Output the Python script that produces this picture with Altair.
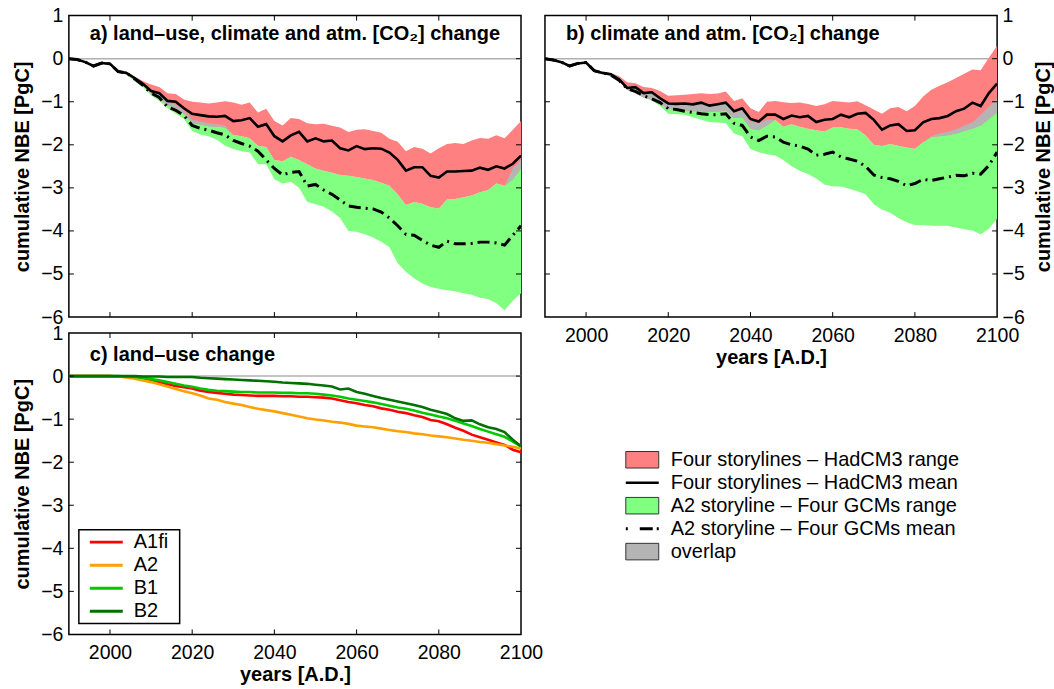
import altair as alt
import pandas as pd

FONT = "Liberation Sans"
W, H = 453, 302

years = list(range(1990, 2101, 2))

# ---- panel a: land-use, climate and atm. CO2 change ----
a_had_mean = [0.00, -0.02, -0.08, -0.17, -0.10, -0.12, -0.30, -0.33, -0.45, -0.58,
              -0.75, -0.80, -0.98, -1.00, -1.15, -1.28, -1.31, -1.34, -1.35, -1.33,
              -1.45, -1.43, -1.38, -1.58, -1.52, -1.80, -1.92, -1.78, -1.70, -1.92,
              -1.85, -1.92, -1.90, -2.08, -2.13, -2.03, -2.10, -2.08, -2.09, -2.18,
              -2.35, -2.60, -2.52, -2.52, -2.72, -2.76, -2.62, -2.62, -2.61, -2.60,
              -2.53, -2.58, -2.50, -2.55, -2.44, -2.25]
a_a2_mean = [0.00, -0.02, -0.08, -0.17, -0.10, -0.12, -0.30, -0.33, -0.47, -0.62,
             -0.80, -0.90, -1.12, -1.20, -1.32, -1.55, -1.62, -1.66, -1.72, -1.77,
             -1.90, -1.97, -2.03, -2.15, -2.35, -2.55, -2.70, -2.64, -2.62, -2.96,
             -2.92, -3.05, -3.15, -3.28, -3.42, -3.45, -3.47, -3.49, -3.56, -3.70,
             -3.88, -4.08, -4.10, -4.22, -4.33, -4.38, -4.24, -4.30, -4.30, -4.29,
             -4.26, -4.26, -4.28, -4.33, -4.10, -3.88]
a_had_hi = [0.00, -0.01, -0.06, -0.15, -0.08, -0.10, -0.28, -0.30, -0.42, -0.52,
            -0.60, -0.66, -0.80, -0.82, -0.95, -1.00, -1.02, -1.04, -1.02, -0.99,
            -1.02, -1.07, -1.02, -1.25, -1.16, -1.45, -1.55, -1.38, -1.40, -1.50,
            -1.52, -1.51, -1.56, -1.60, -1.70, -1.65, -1.64, -1.68, -1.72, -1.86,
            -1.93, -2.15, -2.05, -2.09, -2.20, -2.08, -1.98, -1.96, -1.98, -1.90,
            -1.84, -1.86, -1.78, -1.85, -1.65, -1.45]
a_had_lo = [0.00, -0.03, -0.10, -0.19, -0.12, -0.14, -0.32, -0.36, -0.48, -0.62,
            -0.80, -0.92, -1.08, -1.15, -1.28, -1.50, -1.53, -1.57, -1.58, -1.60,
            -1.77, -1.80, -1.85, -2.02, -2.05, -2.35, -2.38, -2.28, -2.35, -2.45,
            -2.55, -2.60, -2.65, -2.70, -2.72, -2.75, -2.78, -2.82, -2.88, -2.95,
            -3.15, -3.40, -3.33, -3.37, -3.45, -3.48, -3.27, -3.26, -3.22, -3.18,
            -3.10, -3.05, -2.90, -2.95, -2.80, -2.55]
a_a2_hi = [0.00, -0.01, -0.06, -0.15, -0.08, -0.10, -0.28, -0.30, -0.43, -0.55,
           -0.72, -0.82, -1.00, -1.07, -1.20, -1.42, -1.46, -1.50, -1.52, -1.56,
           -1.77, -1.80, -1.85, -2.02, -2.05, -2.35, -2.38, -2.28, -2.35, -2.45,
           -2.55, -2.60, -2.65, -2.70, -2.72, -2.75, -2.78, -2.82, -2.88, -2.95,
           -3.15, -3.40, -3.33, -3.37, -3.45, -3.48, -3.27, -3.26, -3.22, -3.18,
           -3.10, -3.05, -2.90, -2.95, -2.55, -2.35]
a_a2_lo = [0.00, -0.03, -0.10, -0.19, -0.12, -0.14, -0.32, -0.37, -0.52, -0.66,
           -0.85, -0.98, -1.15, -1.28, -1.40, -1.68, -1.76, -1.80, -1.88, -2.02,
           -2.10, -2.15, -2.18, -2.45, -2.45, -2.80, -2.90, -2.86, -3.00, -3.33,
           -3.38, -3.44, -3.55, -3.70, -4.00, -4.02, -4.08, -4.15, -4.25, -4.38,
           -4.75, -4.95, -5.10, -5.22, -5.30, -5.34, -5.38, -5.40, -5.45, -5.48,
           -5.55, -5.58, -5.68, -5.84, -5.62, -5.45]

# ---- panel b: climate and atm. CO2 change ----
b_had_mean = [0.00, -0.03, -0.08, -0.17, -0.11, -0.09, -0.28, -0.33, -0.36, -0.48,
              -0.68, -0.66, -0.80, -0.78, -0.92, -1.04, -1.05, -1.04, -1.06, -1.02,
              -1.09, -1.06, -1.02, -1.22, -1.15, -1.40, -1.46, -1.30, -1.30, -1.40,
              -1.32, -1.36, -1.33, -1.47, -1.42, -1.40, -1.30, -1.36, -1.28, -1.26,
              -1.42, -1.65, -1.55, -1.52, -1.68, -1.66, -1.48, -1.40, -1.38, -1.33,
              -1.22, -1.16, -1.02, -1.10, -0.80, -0.58]
b_a2_mean = [0.00, -0.03, -0.08, -0.17, -0.11, -0.09, -0.28, -0.33, -0.38, -0.50,
             -0.70, -0.76, -0.86, -0.93, -1.02, -1.16, -1.18, -1.22, -1.25, -1.28,
             -1.30, -1.30, -1.28, -1.50, -1.55, -1.82, -1.90, -1.80, -1.82, -1.94,
             -2.00, -2.03, -2.10, -2.24, -2.22, -2.17, -2.28, -2.33, -2.38, -2.50,
             -2.70, -2.76, -2.79, -2.85, -2.95, -2.90, -2.80, -2.83, -2.79, -2.75,
             -2.71, -2.72, -2.66, -2.68, -2.48, -2.17]
b_had_hi = [0.00, -0.02, -0.07, -0.16, -0.10, -0.08, -0.27, -0.31, -0.33, -0.40,
            -0.55, -0.57, -0.66, -0.68, -0.75, -0.86, -0.85, -0.84, -0.82, -0.80,
            -0.82, -0.81, -0.76, -0.98, -0.92, -1.15, -1.24, -1.00, -0.98, -1.01,
            -1.03, -1.02, -1.05, -1.10, -1.06, -0.98, -1.00, -1.02, -0.99, -1.08,
            -1.18, -1.28, -1.15, -1.12, -1.22, -1.10, -0.88, -0.72, -0.63, -0.55,
            -0.45, -0.35, -0.25, -0.27, 0.02, 0.30]
b_had_lo = [0.00, -0.04, -0.09, -0.18, -0.12, -0.10, -0.30, -0.35, -0.40, -0.52,
            -0.72, -0.80, -0.90, -0.95, -1.05, -1.16, -1.18, -1.20, -1.22, -1.22,
            -1.24, -1.24, -1.20, -1.38, -1.36, -1.62, -1.66, -1.55, -1.42, -1.58,
            -1.52, -1.58, -1.63, -1.66, -1.69, -1.60, -1.59, -1.63, -1.64, -1.78,
            -2.00, -2.03, -1.98, -2.02, -2.06, -2.09, -1.94, -1.82, -1.80, -1.78,
            -1.74, -1.68, -1.62, -1.55, -1.40, -1.25]
b_a2_hi = [0.00, -0.02, -0.07, -0.16, -0.10, -0.08, -0.27, -0.31, -0.34, -0.43,
           -0.62, -0.68, -0.78, -0.80, -0.90, -1.02, -1.04, -1.06, -1.06, -1.05,
           -1.08, -1.08, -1.04, -1.24, -1.20, -1.46, -1.50, -1.42, -1.42, -1.58,
           -1.52, -1.58, -1.63, -1.66, -1.69, -1.60, -1.59, -1.63, -1.64, -1.78,
           -2.00, -2.03, -1.98, -2.02, -2.06, -2.09, -1.94, -1.80, -1.74, -1.70,
           -1.64, -1.55, -1.48, -1.30, -1.12, -0.92]
b_a2_lo = [0.00, -0.04, -0.09, -0.18, -0.12, -0.10, -0.30, -0.35, -0.41, -0.50,
           -0.72, -0.80, -0.90, -0.97, -1.10, -1.28, -1.29, -1.30, -1.36, -1.42,
           -1.47, -1.48, -1.50, -1.74, -1.80, -2.10, -2.17, -2.22, -2.25, -2.35,
           -2.50, -2.60, -2.68, -2.78, -2.92, -2.96, -2.97, -3.02, -3.08, -3.15,
           -3.38, -3.50, -3.58, -3.70, -3.80, -3.86, -3.86, -3.88, -3.88, -3.88,
           -3.92, -3.96, -3.99, -4.08, -3.95, -3.72]

# ---- panel c: land-use change ----
c_names = ["A1fi", "A2", "B1", "B2"]
c_colors = ["#ff0000", "#ffa000", "#00c800", "#007000"]
c_a1fi = [0.00, 0.00, 0.00, 0.00, 0.00, 0.00, -0.01, -0.02, -0.04, -0.07,
          -0.10, -0.14, -0.19, -0.23, -0.26, -0.29, -0.34, -0.37, -0.39, -0.41,
          -0.43, -0.44, -0.45, -0.46, -0.46, -0.46, -0.47, -0.47, -0.48, -0.48,
          -0.49, -0.50, -0.52, -0.56, -0.60, -0.63, -0.67, -0.70, -0.75, -0.78,
          -0.83, -0.86, -0.91, -0.95, -1.02, -1.05, -1.12, -1.20, -1.27, -1.36,
          -1.42, -1.48, -1.54, -1.60, -1.71, -1.77]
c_a2 = [0.00, 0.00, 0.00, 0.00, 0.00, 0.00, -0.01, -0.03, -0.06, -0.10,
        -0.14, -0.19, -0.24, -0.30, -0.35, -0.40, -0.45, -0.52, -0.55, -0.60,
        -0.64, -0.67, -0.72, -0.76, -0.79, -0.82, -0.86, -0.90, -0.94, -0.98,
        -1.01, -1.03, -1.06, -1.08, -1.11, -1.15, -1.17, -1.19, -1.22, -1.25,
        -1.28, -1.30, -1.33, -1.35, -1.38, -1.40, -1.42, -1.45, -1.48, -1.50,
        -1.53, -1.55, -1.58, -1.61, -1.64, -1.68]
c_b1 = [0.00, 0.00, 0.00, 0.00, 0.00, 0.00, 0.00, -0.01, -0.02, -0.04,
        -0.07, -0.10, -0.14, -0.18, -0.22, -0.25, -0.29, -0.32, -0.34, -0.35,
        -0.36, -0.37, -0.37, -0.38, -0.38, -0.38, -0.39, -0.39, -0.40, -0.40,
        -0.41, -0.43, -0.45, -0.48, -0.52, -0.55, -0.58, -0.61, -0.65, -0.69,
        -0.73, -0.76, -0.80, -0.85, -0.89, -0.94, -0.98, -1.04, -1.10, -1.16,
        -1.23, -1.29, -1.35, -1.41, -1.52, -1.63]
c_b2 = [0.00, 0.00, 0.00, 0.00, 0.00, 0.00, 0.00, 0.00, 0.00, -0.01,
        -0.01, -0.01, -0.02, -0.02, -0.02, -0.02, -0.04, -0.05, -0.06, -0.07,
        -0.08, -0.09, -0.10, -0.11, -0.12, -0.13, -0.15, -0.16, -0.17, -0.18,
        -0.20, -0.22, -0.24, -0.31, -0.29, -0.37, -0.41, -0.46, -0.51, -0.55,
        -0.59, -0.63, -0.67, -0.72, -0.78, -0.83, -0.88, -0.98, -1.04, -1.03,
        -1.12, -1.19, -1.23, -1.30, -1.48, -1.63]

y_tick_vals = [-5, -4, -3, -2, -1, 0]
x_tick_vals = [2000, 2020, 2040, 2060, 2080]
y_label_vals = [-6, -5, -4, -3, -2, -1, 0, 1]
x_label_vals = [2000, 2020, 2040, 2060, 2080, 2100]

legend_labels = ["Four storylines \u2013 HadCM3 range", "Four storylines \u2013 HadCM3 mean",
                 "A2 storyline \u2013 Four GCMs range", "A2 storyline \u2013 Four GCMs mean",
                 "overlap"]
legend_kinds = ["patch", "line", "patch", "dash", "patch"]
RED, GREEN, GRAY = "#ff8080", "#80ff80", "#b4b4b4"
legend_fills = [RED, "none", GREEN, "none", GRAY]

DASHDOT = [12, 5, 2, 5]
LABEL_FS = 19.5
TITLE_FS = 20

xs = alt.Scale(domain=[1990, 2100], nice=False, zero=False)
ys = alt.Scale(domain=[-6, 1], nice=False, zero=False)

YTITLE = "cumulative NBE [PgC]"
XTITLE = "years [A.D.]"


def y_axis(side):
    if side == "left":
        return alt.Axis(values=y_label_vals, format="d", title=YTITLE, orient="left",
                        ticks=False, tickSize=0, domain=False, grid=False,
                        labelPadding=6, titlePadding=8, labelFlush=False,
                        labelOverlap=False)
    return alt.Axis(values=y_label_vals, format="d", title=YTITLE, orient="right",
                    ticks=False, tickSize=0, domain=False, grid=False, labelPadding=5,
                    titlePadding=9, labelFlush=False, labelOverlap=False,
                    titleAngle=270, titleBaseline="top")


def x_axis(show):
    if not show:
        return None
    return alt.Axis(values=x_label_vals, format="d", title=XTITLE, ticks=False,
                    tickSize=0, domain=False, grid=False, labelPadding=9,
                    titlePadding=3, labelFlush=False, labelOverlap=False)


def frame_layers(yax, xax, title, talign, tx, ty):
    def Y(f):
        return alt.Y(f, type="quantitative", scale=ys, axis=yax)

    def X(f):
        return alt.X(f, type="quantitative", scale=xs, axis=xax)

    zero = alt.Chart(pd.DataFrame({"z": [0]})).mark_rule(
        color="#b0b0b0", strokeWidth=1.5).encode(y=Y("z"))
    ydf = pd.DataFrame({"v": y_tick_vals})
    xdf = pd.DataFrame({"t": x_tick_vals})
    tl = alt.Chart(ydf).mark_rule(color="black", strokeWidth=1).encode(
        y=Y("v"), x=alt.value(0), x2=alt.value(5))
    tr = alt.Chart(ydf).mark_rule(color="black", strokeWidth=1).encode(
        y=Y("v"), x=alt.value(W - 5), x2=alt.value(W))
    tt = alt.Chart(xdf).mark_rule(color="black", strokeWidth=1).encode(
        x=X("t"), y=alt.value(0), y2=alt.value(5))
    tb = alt.Chart(xdf).mark_rule(color="black", strokeWidth=1).encode(
        x=X("t"), y=alt.value(H - 5), y2=alt.value(H))
    ttl = alt.Chart(pd.DataFrame({"s": [title]})).mark_text(
        font=FONT, fontSize=TITLE_FS, fontWeight="bold", align=talign,
        baseline="alphabetic", color="black").encode(
        text="s:N", x=alt.value(tx), y=alt.value(ty))
    return Y, X, zero, [tl, tr, tt, tb], ttl


def band_panel(had_mean, had_lo, had_hi, a2_mean, a2_lo, a2_hi, yax, xax,
               title, talign, tx, ty):
    df = pd.DataFrame({"year": years, "had_mean": had_mean, "had_lo": had_lo,
                       "had_hi": had_hi, "a2_mean": a2_mean, "a2_lo": a2_lo,
                       "a2_hi": a2_hi})
    df["ov_lo"] = df[["had_lo", "a2_lo"]].max(axis=1)
    df["ov_hi"] = df[["had_hi", "a2_hi"]].min(axis=1)
    df["ov_hi"] = df[["ov_hi", "ov_lo"]].max(axis=1)
    Y, X, zero, ticks, ttl = frame_layers(yax, xax, title, talign, tx, ty)
    base = alt.Chart(df)
    green = base.mark_area(color=GREEN, clip=True).encode(
        x=X("year"), y=Y("a2_lo"), y2="a2_hi:Q")
    red = base.mark_area(color=RED, clip=True).encode(
        x=X("year"), y=Y("had_lo"), y2="had_hi:Q")
    gray = base.mark_area(color=GRAY, clip=True).encode(
        x=X("year"), y=Y("ov_lo"), y2="ov_hi:Q")
    had = base.mark_line(color="black", strokeWidth=2.6, clip=True).encode(
        x=X("year"), y=Y("had_mean"))
    a2 = base.mark_line(color="black", strokeWidth=3, strokeDash=DASHDOT,
                        clip=True).encode(x=X("year"), y=Y("a2_mean"))
    return alt.layer(zero, green, red, gray, had, a2, *ticks, ttl).properties(
        width=W, height=H)


pa = band_panel(a_had_mean, a_had_lo, a_had_hi, a_a2_mean, a_a2_lo, a_a2_hi,
                y_axis("left"), x_axis(False),
                "a) land\u2013use, climate and atm. [CO\u2082] change",
                "center", W / 2, 24)
pb = band_panel(b_had_mean, b_had_lo, b_had_hi, b_a2_mean, b_a2_lo, b_a2_hi,
                y_axis("right"), x_axis(True),
                "b) climate and atm. [CO\u2082] change", "left", 21, 24)

# panel c
c_rows = []
for name, vals in zip(c_names, [c_a1fi, c_a2, c_b1, c_b2]):
    for yr, v in zip(years, vals):
        c_rows.append({"scenario": name, "year": yr, "nbe": v})
cdf = pd.DataFrame(c_rows)
Yc, Xc, zero_c, ticks_c, ttl_c = frame_layers(
    y_axis("left"), x_axis(True), "c) land\u2013use change", "left", 21, 28)
color_scale = alt.Scale(domain=c_names, range=c_colors)
c_lines = alt.Chart(cdf).mark_line(strokeWidth=2.6, clip=True).encode(
    x=Xc("year"), y=Yc("nbe"),
    color=alt.Color("scenario:N", scale=color_scale, legend=None),
    detail="scenario:N")
c_main = alt.layer(zero_c, c_lines, *ticks_c, ttl_c)

cl_df = pd.DataFrame({"i": [0, 1, 2, 3], "name": c_names})
cls = alt.Scale(domain=[0, 3], range=[209.5, 278.8])
c_box = alt.Chart(pd.DataFrame({"d": [0]})).mark_rect(
    fill="white", stroke="black", strokeWidth=1.5).encode(
    x=alt.value(10), x2=alt.value(111), y=alt.value(197), y2=alt.value(291))
c_keys = alt.Chart(cl_df).mark_rule(strokeWidth=3).encode(
    x=alt.value(21), x2=alt.value(54),
    y=alt.Y("i:Q", scale=cls, axis=None),
    color=alt.Color("name:N", scale=color_scale, legend=None))
c_txt = alt.Chart(cl_df).mark_text(font=FONT, fontSize=TITLE_FS, align="left",
                                   baseline="middle", color="black").encode(
    x=alt.value(65), y=alt.Y("i:Q", scale=cls, axis=None), text="name:N")
c_leg = alt.layer(c_box, c_keys, c_txt)
pc = alt.layer(c_main, c_leg).resolve_scale(y="independent").properties(
    width=W, height=H)

# main legend (bottom right)
ldf = pd.DataFrame({"i": list(range(5)), "label": legend_labels,
                    "kind": legend_kinds, "fill": legend_fills})
ldf["lo"] = ldf["i"] - 0.36
ldf["hi"] = ldf["i"] + 0.36
ls = alt.Scale(domain=[0, 4], range=[127, 219])
patches = alt.Chart(ldf[ldf.kind == "patch"]).mark_rect(
    stroke="#333333", strokeWidth=1).encode(
    x=alt.value(81), x2=alt.value(114),
    y=alt.Y("lo:Q", scale=ls, axis=None), y2="hi:Q",
    fill=alt.Fill("fill:N", scale=None))
solid = alt.Chart(ldf[ldf.kind == "line"]).mark_rule(
    color="black", strokeWidth=2.6).encode(
    x=alt.value(81), x2=alt.value(114), y=alt.Y("i:Q", scale=ls, axis=None))
dash = alt.Chart(ldf[ldf.kind == "dash"]).mark_rule(
    color="black", strokeWidth=3, strokeDash=[2, 12, 13, 4, 2, 60]).encode(
    x=alt.value(81), x2=alt.value(114), y=alt.Y("i:Q", scale=ls, axis=None))
ltext = alt.Chart(ldf).mark_text(font=FONT, fontSize=TITLE_FS, align="left",
                                 baseline="middle", color="black").encode(
    x=alt.value(126), y=alt.Y("i:Q", scale=ls, axis=None), text="label:N")
pleg = alt.layer(patches, solid, dash, ltext).properties(
    width=W, height=H, view=alt.ViewBackground(stroke="transparent"))

chart = alt.concat(pa, pb, pc, pleg, columns=2,
                   spacing={"row": 16, "column": 24}, bounds="flush").properties(
    padding={"left": 12, "top": 4, "right": 0, "bottom": 1},
    background="white"
).configure(font=FONT).configure_axis(
    labelFont=FONT, titleFont=FONT, labelFontSize=LABEL_FS, titleFontSize=TITLE_FS,
    titleFontWeight="bold", labelColor="black", titleColor="black"
).configure_view(stroke="black", strokeWidth=1.5)

chart.save("out.html", embed_options={"renderer": "svg", "actions": False})
